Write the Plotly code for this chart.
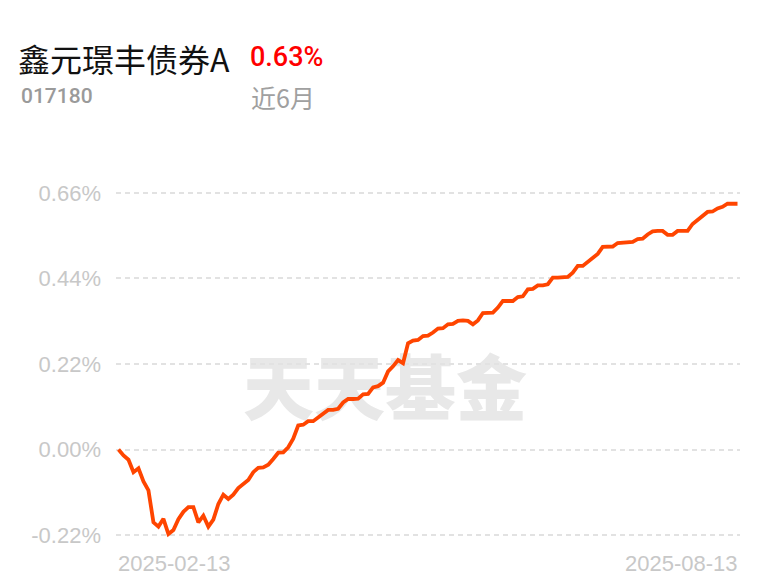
import plotly.graph_objects as go

# ---------------- data ----------------
fund_name = "鑫元璟丰债券A"
fund_code = "017180"
period_label = "近6月"
period_return = "0.63%"
start_date = "2025-02-13"
end_date = "2025-08-13"

y_ticks = [-0.22, 0.00, 0.22, 0.44, 0.66]
y_tick_labels = ["-0.22%", "0.00%", "0.22%", "0.44%", "0.66%"]

# cumulative return (%) per trading day
returns = [
    0.000, -0.015, -0.026, -0.058, -0.048, -0.082, -0.105, -0.187, -0.198, -0.178,
    -0.217, -0.207, -0.179, -0.160, -0.148, -0.148, -0.187, -0.170, -0.198, -0.180,
    -0.140, -0.116, -0.127, -0.116, -0.099, -0.088, -0.078, -0.058, -0.047, -0.046,
    -0.039, -0.024, -0.008, -0.007, 0.006, 0.028, 0.062, 0.064, 0.073, 0.073,
    0.082, 0.092, 0.102, 0.102, 0.105, 0.121, 0.130, 0.130, 0.131, 0.142,
    0.143, 0.160, 0.163, 0.172, 0.201, 0.214, 0.230, 0.222, 0.273, 0.280,
    0.282, 0.292, 0.293, 0.301, 0.311, 0.312, 0.322, 0.323, 0.331, 0.332,
    0.331, 0.322, 0.332, 0.351, 0.352, 0.352, 0.365, 0.382, 0.382, 0.382,
    0.392, 0.394, 0.412, 0.413, 0.422, 0.422, 0.425, 0.442, 0.442, 0.442,
    0.444, 0.455, 0.472, 0.472, 0.483, 0.493, 0.503, 0.521, 0.522, 0.522,
    0.531, 0.532, 0.532, 0.534, 0.541, 0.542, 0.553, 0.561, 0.562, 0.562,
    0.552, 0.552, 0.562, 0.562, 0.562, 0.580, 0.591, 0.602, 0.611, 0.612,
    0.620, 0.624, 0.632, 0.632, 0.632,
]
day_index = list(range(len(returns)))

# ---------------- layout geometry ----------------
# the page body has an 8px default margin; compensate so that
# screen coordinates match the reference
OFF = 8
W, H = 768 - OFF, 585 - OFF
L, R, T, B = 115.5 - OFF, 27.5, 187.2 - OFF, 44.2
PW, PH = W - L - R, H - T - B


def px(x):
    return (x - OFF - L) / PW


def py(y):
    return 1 - (y - OFF - T) / PH


NUM_FONT = "Liberation Sans"

fig = go.Figure()
fig.add_trace(go.Scatter(
    x=day_index, y=returns, mode="lines",
    line=dict(color="#FF4500", width=3.8),
    hoverinfo="skip", cliponaxis=False,
))

annotations = [
    dict(text=fund_name, x=px(15), y=py(58), xanchor="left", yanchor="middle",
         font=dict(family="Noto Sans CJK SC", size=32, color="#111111")),
    dict(text=period_return, x=px(248), y=py(57), xanchor="left", yanchor="middle",
         font=dict(family="Roboto", size=27, color="#FF0000", weight=500)),
    dict(text=fund_code, x=px(18), y=py(96), xanchor="left", yanchor="middle",
         font=dict(family="Roboto", size=21, color="#9A9A9A", weight=500)),
    dict(text=period_label, x=px(249), y=py(97), xanchor="left", yanchor="middle",
         font=dict(family="Noto Sans CJK SC", size=25, color="#A0A0A0")),
    dict(text=start_date, x=day_index[0], xref="x", y=py(563), xanchor="left", yanchor="middle",
         xshift=-3, font=dict(family=NUM_FONT, size=22, color="#C8C8C8")),
    dict(text=end_date, x=day_index[-1], xref="x", y=py(563), xanchor="right", yanchor="middle",
         xshift=2, font=dict(family=NUM_FONT, size=22, color="#C8C8C8")),
]
for a in annotations:
    a.setdefault("xref", "paper")
    a["yref"] = "paper"
    a["showarrow"] = False

fig.update_layout(
    width=W, height=H,
    margin=dict(l=L, r=R, t=T, b=B, pad=0),
    paper_bgcolor="white", plot_bgcolor="white",
    showlegend=False,
    annotations=annotations,
    shapes=[dict(
        type="rect", xref="paper", yref="paper",
        x0=px(240), x1=px(530), y0=py(430), y1=py(358),
        line=dict(width=0), fillcolor="rgba(0,0,0,0)", layer="below",
        label=dict(text="天天基金", textposition="middle center",
                   font=dict(family="Noto Sans CJK SC", size=71, color="#E8E8E8", weight=900)),
    )],
    xaxis=dict(range=[-0.5, len(returns) - 0.5], showgrid=False, zeroline=False,
               showticklabels=False, showline=False, fixedrange=True),
    yaxis=dict(range=[-0.235, 0.675], tickvals=y_ticks, ticktext=y_tick_labels,
               showgrid=True, gridcolor="#E2E2E2", gridwidth=1.5, griddash="5px,4px",
               zeroline=False, showline=False, ticklabelstandoff=14,
               tickfont=dict(family=NUM_FONT, size=22, color="#C8C8C8"), fixedrange=True),
)

fig.write_html("out.html")
